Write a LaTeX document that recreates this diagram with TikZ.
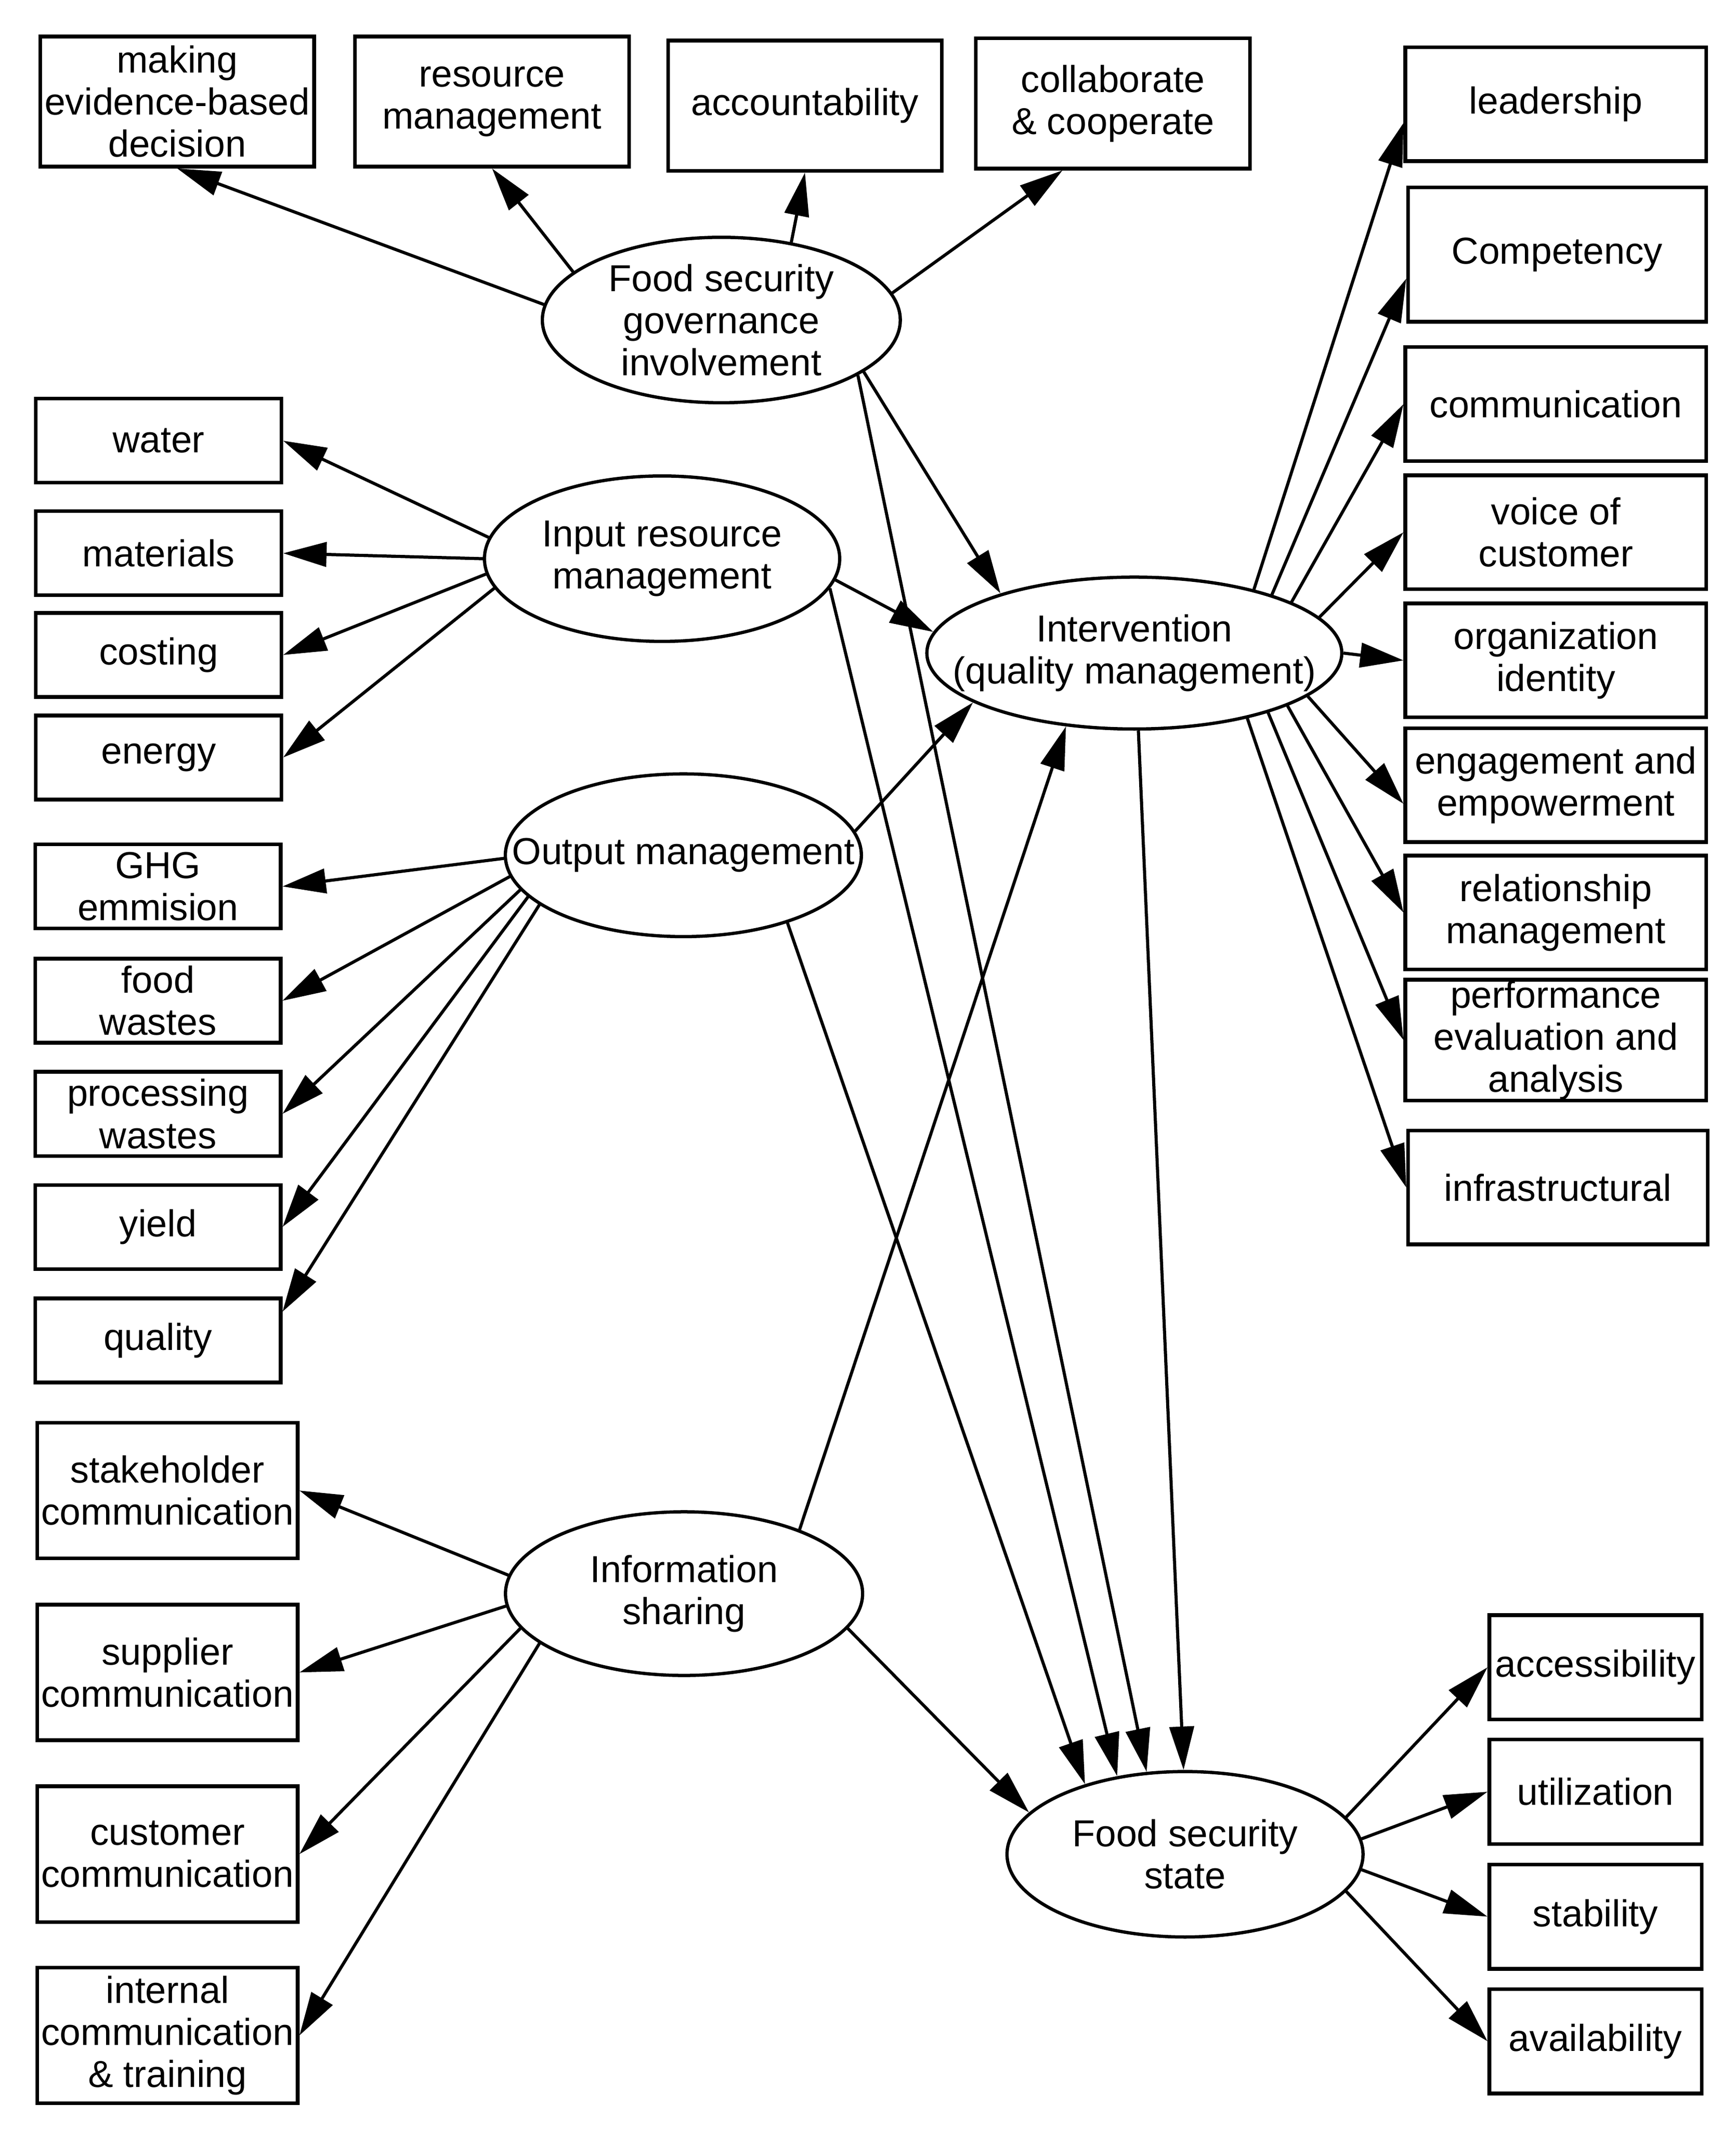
\documentclass[tikz,border=0pt]{standalone}
\usepackage{fontspec}
\setmainfont{Liberation Sans}
\usetikzlibrary{arrows.meta,shapes.geometric}
\begin{document}
\begin{tikzpicture}[x=0.5pt,y=-0.5pt,
  font=\fontsize{13.85pt}{15.5pt}\selectfont,
  bx/.style={draw, line width=1.35pt, inner sep=0pt, align=center},
  topbox/.style={bx, minimum width=101pt, minimum height=48pt},
  rbox/.style={bx, minimum width=111pt, minimum height=42pt},
  lbox/.style={bx, minimum width=90.5pt, minimum height=31pt},
  ibox/.style={bx, minimum width=96pt, minimum height=50pt},
  fbox/.style={bx, minimum width=78.25pt, minimum height=38.5pt},
  ell/.style={ellipse, draw, line width=1.2pt, inner sep=0pt},
  lbl/.style={align=center, inner sep=0pt},
  arr/.style={line width=1.15pt, -{Triangle[length=16pt,width=9pt]}}
]
\fill[white] (0,0) rectangle (1280,1570.75);
\useasboundingbox (0,0) rectangle (1280,1570.75);

% ellipses
\node[ell, minimum width=132pt, minimum height=61pt, label={[lbl]center:{Food security\\governance\\involvement}}] (fsg) at (532,236) {};
\node[ell, minimum width=131pt, minimum height=61pt, label={[lbl]center:{Input resource\\management}}] (inp) at (488.3,412) {};
\node[ell, minimum width=131.3pt, minimum height=60pt, label={[lbl]center:{Output management}}] (out) at (504,630.7) {};
\node[ell, minimum width=153pt, minimum height=56pt, label={[lbl]center:{Intervention\\(quality management)}}] (int) at (836.6,481.6) {};
\node[ell, minimum width=131.7pt, minimum height=60.35pt, label={[lbl]center:{Information\\sharing}}] (info) at (504.5,1175.2) {};
\node[ell, minimum width=131.3pt, minimum height=61pt, label={[lbl]center:{Food security\\state}}] (fss) at (874,1367.4) {};

% top boxes
\node[topbox] (mak) at (130.7,74.9) {making\\evidence-based\\decision};
\node[topbox] (res) at (362.9,74.9) {resource\\management};
\node[topbox] (acc) at (593.7,77.9) {accountability};
\node[topbox] (col) at (820.8,76.3) {collaborate\\\& cooperate};

% right boxes
\node[rbox] (lead) at (1147.5,76.8) {leadership};
\node[rbox, minimum width=110pt, minimum height=49.5pt] (comp) at (1148.5,187.8) {Competency};
\node[rbox] (comm) at (1147.5,298) {communication};
\node[rbox] (voice) at (1147.5,392.5) {voice of\\customer};
\node[rbox] (org) at (1147.5,487) {organization\\identity};
\node[rbox] (eng) at (1147.5,579) {engagement and\\empowerment};
\node[rbox] (rel) at (1147.5,673) {relationship\\management};
\node[rbox, minimum height=44.5pt] (perf) at (1147.5,767) {performance\\evaluation and\\analysis};
\node[rbox, minimum width=110.5pt] (infra) at (1149,875.7) {infrastructural};

% left boxes
\node[lbox] (water) at (117,325) {water};
\node[lbox] (mat) at (117,408) {materials};
\node[lbox] (cost) at (117,483) {costing};
\node[lbox] (ener) at (117,558.6) {energy};
\node[lbox] (ghg) at (116.5,653.7) {GHG\\emmision};
\node[lbox] (fw) at (116.5,738) {food\\wastes};
\node[lbox] (pw) at (116.5,821.4) {processing\\wastes};
\node[lbox] (yld) at (116.5,904.8) {yield};
\node[lbox] (qual) at (116.5,988.5) {quality};

% info boxes
\node[ibox] (stake) at (123.5,1099.2) {stakeholder\\communication};
\node[ibox] (supp) at (123.5,1233.3) {supplier\\communication};
\node[ibox] (cust) at (123.5,1367.3) {customer\\communication};
\node[ibox] (intl) at (123.5,1501) {internal\\communication\\\& training};

% fss boxes
\node[fbox] (acs) at (1176.7,1229.5) {accessibility};
\node[fbox] (util) at (1176.7,1321.3) {utilization};
\node[fbox] (stab) at (1176.7,1413.4) {stability};
\node[fbox] (avail) at (1176.7,1505.3) {availability};

% governance edges
\draw[arr] (fsg.175.1) -- (mak.south);
\draw[arr] (fsg.162.7) -- (res.south);
\draw[arr] (fsg.48.2) -- (acc.south);
\draw[arr] (fsg.9.25) -- (col.233.8);
\draw[arr] (fsg.-20) -- (int.156.4);
\draw[arr] (fsg.-22) -- (fss.115.25);

% input edges
\draw[arr] (inp.173.5) -- (water.east);
\draw[arr] (inp.180) -- (mat.east);
\draw[arr] (inp.185.2) -- (cost.east);
\draw[arr] (inp.190.4) -- (ener.east);
\draw[arr] (inp.-7.3) -- (int.174);
\draw[arr] (inp.-10.3) -- (fss.131.9);

% output edges
\draw[arr] (out.181.7) -- (ghg.east);
\draw[arr] (out.187.6) -- (fw.east);
\draw[arr] (out.192.3) -- (pw.east);
\draw[arr] (out.195.4) -- (yld.east);
\draw[arr] (out.199.2) -- (qual.13.9);
\draw[arr] (out.8.7) -- (int.197.3);
\draw[arr] (out.-33.5) -- (fss.145.3);

% intervention edges
\draw[arr] (int.28.6) -- (lead.187.3);
\draw[arr] (int.23.1) -- (comp.189.7);
\draw[arr] (int.18.5) -- (comm.west);
\draw[arr] (int.11.9) -- (voice.west);
\draw[arr] (int.0) -- (org.west);
\draw[arr] (int.-14.8) -- (eng.187.15);
\draw[arr] (int.-19.6) -- (rel.west);
\draw[arr] (int.-24.3) -- (perf.west);
\draw[arr] (int.-30) -- (infra.west);
\draw[arr] (int.-87) -- (fss.91.4);

% information sharing edges
\draw[arr] (info.29.5) -- (int.227.1);
\draw[arr] (info.-12.9) -- (fss.165.1);
\draw[arr] (info.174.8) -- (stake.east);
\draw[arr] (info.184.2) -- (supp.east);
\draw[arr] (info.192.9) -- (cust.east);
\draw[arr] (info.199.7) -- (intl.east);

% food security state edges
\draw[arr] (fss.13.4) -- (acs.west);
\draw[arr] (fss.5.1) -- (util.west);
\draw[arr] (fss.-5.3) -- (stab.west);
\draw[arr] (fss.-13.7) -- (avail.west);
\end{tikzpicture}
\end{document}
